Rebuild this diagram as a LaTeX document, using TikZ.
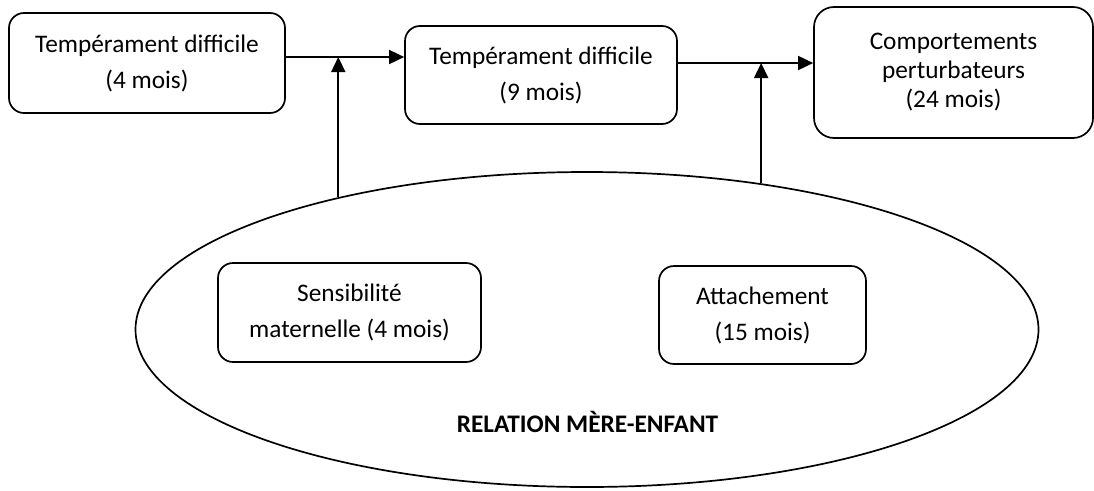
\documentclass[tikz,border=0pt]{standalone}
\usepackage{fontspec}
\setmainfont{Carlito}
\usepackage{tikz}
\usetikzlibrary{arrows.meta,shapes.geometric,positioning}
\tikzset{
     bloc/.style={draw, rounded corners=15pt, align=center, inner sep=0pt,
                  font=\fontsize{25.3}{36}\selectfont},
     lien/.style={-{Triangle[length=15pt,width=14pt]}},
     relation/.style={draw, ellipse, inner sep=0pt},
    }

\begin{document}
\begin{tikzpicture}[x=1pt,y=-1pt,line width=1.7pt]
        \useasboundingbox (0,0) rectangle (1094,490);

        \node [relation, minimum width=903pt, minimum height=315pt] (rel) at (587,329.5) {};
        \node [bloc, minimum width=276pt, minimum height=100pt] (t4) at (147,63) {Tempérament difficile\\(4 mois)};
        \node [bloc, minimum width=272pt, minimum height=98pt] (t9) at (541,75) {Tempérament difficile\\(9 mois)};
        \node [bloc, rounded corners=20pt, minimum width=279pt, minimum height=131pt,
               font=\fontsize{25.3}{29}\selectfont] (cp) at (953.5,72.5) {Comportements\\perturbateurs\\(24 mois)};
        \node [bloc, minimum width=263pt, minimum height=99pt] (sm) at (349.5,312.5) {Sensibilité\\maternelle (4 mois)};
        \node [bloc, minimum width=207pt, minimum height=98pt] (at) at (762.5,315) {Attachement\\(15 mois)};
        \node [font=\fontsize{25.3}{29}\selectfont\bfseries] (titre) at (587.5,422) {RELATION MÈRE-ENFANT};

        \coordinate (j1) at (339,57);
        \coordinate (j2) at (758,63);

        \draw[lien] (t4.east |- j1) -- (t9.west |- j1);
        \draw[lien] (t9.east |- j2) -- (cp.west |- j2);
        \draw[lien] (rel.152) -- (rel.152 |- j1);
        \draw[lien] (rel.40.5) -- (rel.40.5 |- j2);
    \end{tikzpicture}
\end{document}
